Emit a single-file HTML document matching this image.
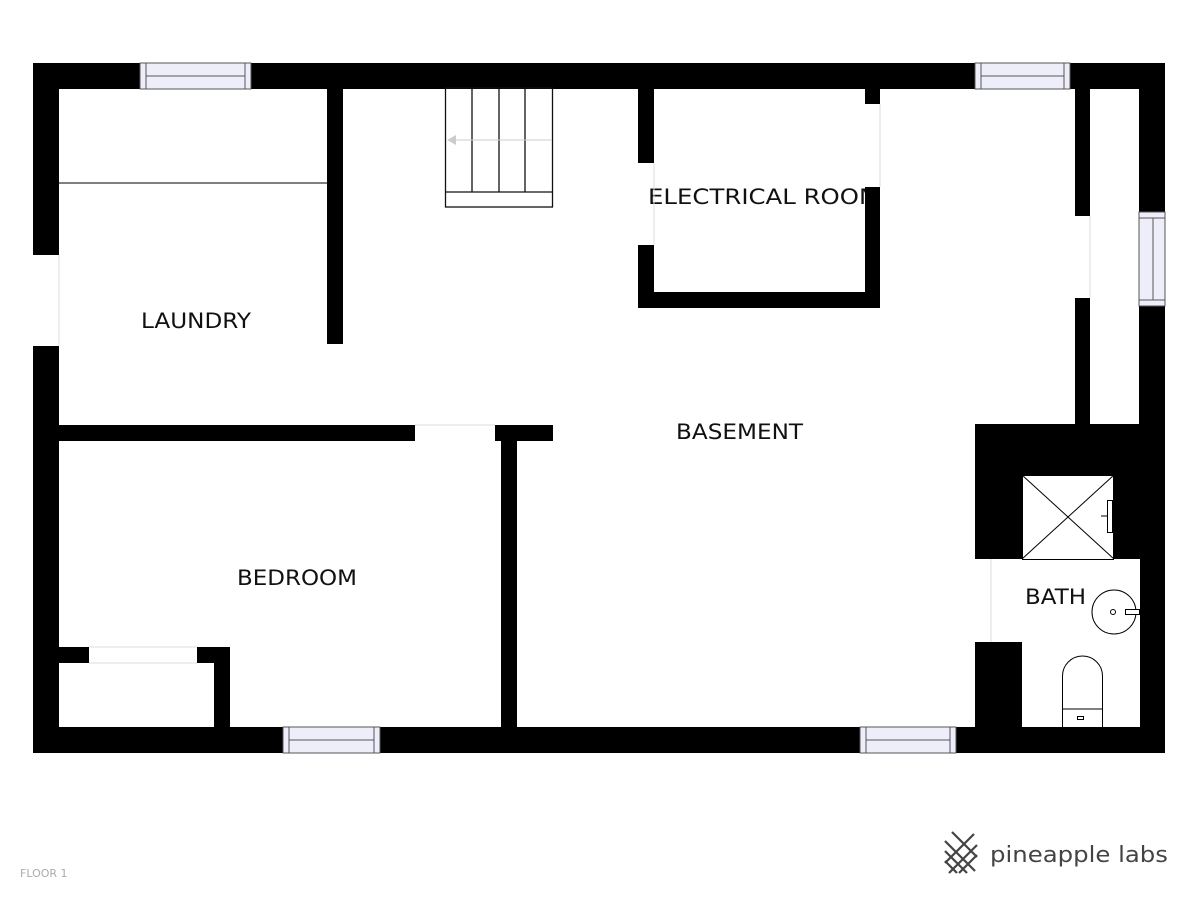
<!DOCTYPE html>
<html><head><meta charset="utf-8"><style>
html,body{margin:0;padding:0;background:#fff;}
svg{display:block;}
text{font-family:"DejaVu Sans","Liberation Sans",sans-serif;}
</style></head><body>
<svg width="1200" height="900" viewBox="0 0 1200 900" xmlns="http://www.w3.org/2000/svg">
<rect width="1200" height="900" fill="#fff"/>
<!-- labels (drawn first so walls clip them) -->
<g fill="#111" font-size="21">
  <text x="141" y="328" textLength="110" lengthAdjust="spacingAndGlyphs">LAUNDRY</text>
  <text x="648" y="204" textLength="232" lengthAdjust="spacingAndGlyphs">ELECTRICAL ROOM</text>
  <text x="676" y="439" textLength="127" lengthAdjust="spacingAndGlyphs">BASEMENT</text>
  <text x="237" y="585" textLength="120" lengthAdjust="spacingAndGlyphs">BEDROOM</text>
</g>
<g fill="#000">
  <rect x="33" y="63" width="1132" height="26"/>
  <rect x="33" y="727" width="1132" height="26"/>
  <rect x="33" y="63" width="26" height="192"/>
  <rect x="33" y="346" width="26" height="407"/>
  <rect x="1139" y="63" width="26" height="149"/>
  <rect x="1139" y="306" width="26" height="447"/>
  <rect x="327" y="89" width="16" height="255"/>
  <rect x="59" y="425" width="356" height="16"/>
  <rect x="495" y="425" width="58" height="16"/>
  <rect x="501" y="425" width="16" height="302"/>
  <rect x="638" y="89" width="16" height="74"/>
  <rect x="638" y="245" width="16" height="63"/>
  <rect x="638" y="292" width="242" height="16"/>
  <rect x="865" y="89" width="15" height="15"/>
  <rect x="865" y="187" width="15" height="121"/>
  <rect x="1075" y="89" width="15" height="127"/>
  <rect x="1075" y="298" width="15" height="127"/>
  <rect x="975" y="424" width="190" height="329"/>
  <rect x="59" y="647" width="30" height="16"/>
  <rect x="197" y="647" width="33" height="16"/>
  <rect x="214" y="647" width="16" height="80"/>
</g>
<rect x="880" y="100" width="100" height="120" fill="#fff"/>
<g fill="#fff">
  <rect x="1022" y="475" width="92" height="85"/>
  <rect x="975" y="559" width="165" height="83"/>
  <rect x="1022" y="641" width="118" height="86"/>
</g>
<line x1="991" y1="559" x2="991" y2="642" stroke="#ddd" stroke-width="1"/>
<g stroke="#000" stroke-width="1" fill="none">
  <rect x="1022.5" y="475.5" width="91" height="84"/>
  <line x1="1022" y1="475" x2="1114" y2="559"/>
  <line x1="1114" y1="475" x2="1022" y2="559"/>
  <rect x="1107.5" y="500.5" width="5" height="32" fill="#fff"/>
  <circle cx="1114" cy="612" r="22"/>
  <circle cx="1113" cy="612" r="2.5"/>
  <rect x="1125.5" y="609.5" width="14" height="5" fill="#fff"/>
  <path d="M1062.5 727 V676 A20 20 0 0 1 1102.5 676 V727"/>
  <line x1="1062" y1="709" x2="1103" y2="709"/>
  <rect x="1077.5" y="716.5" width="6" height="3"/>
  <line x1="1101" y1="516" x2="1107" y2="516"/>
</g>
<text x="1025" y="604" font-size="21" fill="#111" textLength="61" lengthAdjust="spacingAndGlyphs">BATH</text>
<line x1="59" y1="183" x2="327" y2="183" stroke="#333" stroke-width="1.2"/>
<g stroke="#111" stroke-width="1.3" fill="none">
  <rect x="445.5" y="88" width="107" height="119"/>
  <line x1="472" y1="89" x2="472" y2="192"/>
  <line x1="499" y1="89" x2="499" y2="192"/>
  <line x1="525" y1="89" x2="525" y2="192"/>
  <line x1="445" y1="192" x2="553" y2="192"/>
</g>
<line x1="455" y1="140" x2="552" y2="140" stroke="#ccc" stroke-width="1"/>
<polygon points="447,140 456,135 456,145" fill="#ccc"/>
<g stroke="#ddd" stroke-width="1">
  <line x1="415" y1="425" x2="495" y2="425"/>
  <line x1="89" y1="647" x2="197" y2="647"/>
  <line x1="89" y1="663" x2="197" y2="663"/>
  <line x1="654" y1="163" x2="654" y2="245"/>
  <line x1="880" y1="104" x2="880" y2="187"/>
  <line x1="1090" y1="216" x2="1090" y2="298"/>
  <line x1="59" y1="255" x2="59" y2="346"/>
</g>
<g fill="#eeeefa" stroke="#555" stroke-width="1">
  <rect x="140" y="63" width="111" height="26"/>
  <line x1="146" y1="63" x2="146" y2="89"/><line x1="245" y1="63" x2="245" y2="89"/>
  <line x1="146" y1="76" x2="245" y2="76"/>
  <rect x="975" y="63" width="95" height="26"/>
  <line x1="981" y1="63" x2="981" y2="89"/><line x1="1064" y1="63" x2="1064" y2="89"/>
  <line x1="981" y1="76" x2="1064" y2="76"/>
  <rect x="283" y="727" width="97" height="26"/>
  <line x1="289" y1="727" x2="289" y2="753"/><line x1="374" y1="727" x2="374" y2="753"/>
  <line x1="289" y1="740" x2="374" y2="740"/>
  <rect x="860" y="727" width="96" height="26"/>
  <line x1="866" y1="727" x2="866" y2="753"/><line x1="950" y1="727" x2="950" y2="753"/>
  <line x1="866" y1="740" x2="950" y2="740"/>
  <rect x="1139" y="212" width="26" height="94"/>
  <line x1="1139" y1="218" x2="1165" y2="218"/><line x1="1139" y1="300" x2="1165" y2="300"/>
  <line x1="1153" y1="218" x2="1153" y2="300"/>
</g>
<text x="20" y="877" font-size="11" fill="#aaa">FLOOR 1</text>
<g stroke="#444" stroke-width="2.2" fill="none">
  <line x1="945" y1="841" x2="975" y2="871"/>
  <line x1="945" y1="851" x2="967" y2="873"/>
  <line x1="945" y1="861" x2="957" y2="873"/>
  <line x1="974" y1="834" x2="945" y2="863"/>
  <line x1="977" y1="845" x2="949" y2="873"/>
  <line x1="977" y1="855" x2="959" y2="873"/>
  <line x1="952" y1="832" x2="977" y2="857"/>
</g>
<text x="990" y="862" font-size="22" fill="#444" font-family="Liberation Sans, sans-serif" textLength="178" lengthAdjust="spacingAndGlyphs">pineapple labs</text>
</svg>
</body></html>
